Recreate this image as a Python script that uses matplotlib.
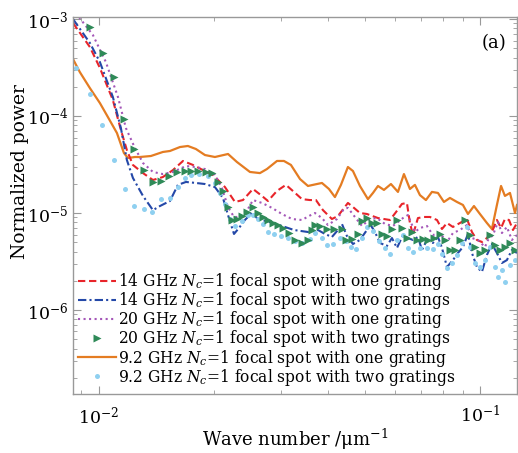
import matplotlib
matplotlib.use("Agg")
import matplotlib.pyplot as plt

# ---------------- data (wave number in 1/um, normalized power) ----------------
k_red = [0.00855, 0.00947, 0.01006, 0.01088, 0.01142, 0.01184, 0.01228, 0.01305, 0.01386, 0.01472,
         0.01564, 0.01662, 0.01765, 0.01875, 0.01992, 0.02142, 0.02275, 0.02388, 0.02537, 0.02678,
         0.02777, 0.02933, 0.03096, 0.0325, 0.03411, 0.0358, 0.03712, 0.03873, 0.04088, 0.04239,
         0.04503, 0.0467, 0.04842, 0.05051, 0.054, 0.05805, 0.06019, 0.06241, 0.06432, 0.0655,
         0.0667, 0.06875, 0.07129, 0.07393, 0.07713, 0.0795, 0.08193, 0.08495, 0.08862, 0.09246,
         0.09528, 0.0982, 0.1012, 0.1043, 0.1075, 0.1108, 0.1136, 0.1163, 0.1192, 0.1221, 0.1251]
p_red = [9.1e-4, 5.14e-4, 3.13e-4, 1.46e-4, 7.17e-5, 4.46e-5, 3.13e-5, 2.58e-5, 2.19e-5, 2.35e-5,
         2.77e-5, 3.44e-5, 3.13e-5, 2.77e-5, 2.47e-5, 1.85e-5, 1.30e-5, 1.36e-5, 1.77e-5, 1.50e-5,
         1.33e-5, 1.69e-5, 1.95e-5, 1.65e-5, 1.39e-5, 1.36e-5, 1.36e-5, 1.07e-5, 8.67e-6, 9.31e-6,
         1.27e-5, 1.13e-5, 1.0e-5, 9.77e-6, 8.87e-6, 8.47e-6, 1.02e-5, 1.24e-5, 1.27e-5, 7.89e-6,
         5.93e-6, 8.87e-6, 9.1e-6, 9.1e-6, 8.47e-6, 6.84e-6, 7.89e-6, 7.18e-6, 7.89e-6, 8.67e-6,
         6.37e-6, 5.27e-6, 5.02e-6, 5.52e-6, 6.37e-6, 8.47e-6, 7.0e-6, 8.67e-6, 8.47e-6, 6.68e-6, 7.89e-6]

k_blue = [0.00855, 0.00947, 0.01006, 0.01088, 0.01142, 0.01184, 0.01228, 0.01305, 0.01386, 0.01446,
          0.01536, 0.01612, 0.01692, 0.01797, 0.01898, 0.02016, 0.02116, 0.02194, 0.02262, 0.02331,
          0.02416, 0.02521, 0.02614, 0.02811, 0.03022, 0.0325, 0.03537, 0.03757, 0.03919, 0.04088,
          0.04239, 0.04343, 0.04476, 0.04642, 0.04842, 0.05051, 0.05144, 0.05302, 0.05465, 0.05701,
          0.05875, 0.06057, 0.0628, 0.06471, 0.0667, 0.06875, 0.07043, 0.07259, 0.07526, 0.07759,
          0.0795, 0.08193, 0.08495, 0.08756, 0.09024, 0.09301, 0.09528, 0.0982, 0.1012, 0.1043,
          0.1075, 0.1108, 0.1142, 0.1177, 0.1213, 0.1251]
p_blue = [1.0e-3, 5.66e-4, 3.60e-4, 1.57e-4, 7.52e-5, 3.52e-5, 2.30e-5, 1.50e-5, 1.07e-5, 1.18e-5,
          1.33e-5, 1.95e-5, 2.09e-5, 2.04e-5, 1.99e-5, 1.85e-5, 1.43e-5, 8.87e-6, 6.08e-6, 7.0e-6,
          8.47e-6, 1.0e-5, 8.67e-6, 8.07e-6, 7.35e-6, 6.68e-6, 6.37e-6, 6.68e-6, 6.08e-6, 5.66e-6,
          6.68e-6, 7.71e-6, 5.79e-6, 4.79e-6, 5.27e-6, 6.68e-6, 7.71e-6, 6.37e-6, 4.91e-6, 4.57e-6,
          5.52e-6, 4.36e-6, 5.93e-6, 5.52e-6, 5.27e-6, 5.66e-6, 4.16e-6, 5.27e-6, 4.91e-6, 5.66e-6,
          4.36e-6, 2.77e-6, 3.27e-6, 3.87e-6, 4.46e-6, 6.08e-6, 3.87e-6, 2.77e-6, 2.47e-6, 3.69e-6,
          4.79e-6, 3.87e-6, 3.05e-6, 3.27e-6, 4.16e-6, 3.87e-6]

k_purple = [0.00855, 0.00891, 0.009644, 0.01043, 0.01122, 0.01177, 0.01243, 0.01305, 0.01386, 0.01472,
            0.01564, 0.01692, 0.01797, 0.01898, 0.02016, 0.02103, 0.02182, 0.02262, 0.02345, 0.02461,
            0.02537, 0.02678, 0.02845, 0.03022, 0.03211, 0.03411, 0.03558, 0.03689, 0.03849, 0.0399,
            0.04215, 0.04395, 0.04503, 0.04698, 0.04901, 0.05144, 0.05367, 0.05632, 0.05912, 0.0628,
            0.06471, 0.06751, 0.06958, 0.07259, 0.07526, 0.07853, 0.08193, 0.08495, 0.08862, 0.09246,
            0.09528, 0.09881, 0.1031, 0.105, 0.1082, 0.1115, 0.1142, 0.1177, 0.1213, 0.1251]
p_purple = [1.3e-3, 1.02e-3, 6.84e-4, 3.60e-4, 1.57e-4, 7.52e-5, 4.68e-5, 3.28e-5, 2.65e-5, 2.52e-5,
            2.65e-5, 3.05e-5, 2.98e-5, 2.84e-5, 2.47e-5, 1.81e-5, 1.15e-5, 9.1e-6, 9.1e-6, 1.10e-5,
            1.36e-5, 1.27e-5, 1.13e-5, 9.77e-6, 8.67e-6, 8.47e-6, 9.31e-6, 1.0e-5, 8.87e-6, 7.52e-6,
            8.67e-6, 1.10e-5, 1.13e-5, 9.1e-6, 7.35e-6, 8.67e-6, 8.87e-6, 7.71e-6, 7.35e-6, 8.87e-6,
            9.53e-6, 6.37e-6, 7.0e-6, 7.35e-6, 5.93e-6, 6.22e-6, 5.02e-6, 6.22e-6, 6.68e-6, 7.52e-6,
            5.52e-6, 5.27e-6, 4.46e-6, 5.27e-6, 5.93e-6, 8.07e-6, 6.22e-6, 7.18e-6, 5.27e-6, 5.93e-6]

k_green = [0.00947, 0.01024, 0.01095, 0.01163, 0.01236, 0.01313, 0.01386, 0.01455, 0.01527, 0.01602,
           0.01682, 0.01744, 0.01819, 0.0191, 0.0198, 0.02053, 0.02116, 0.02182, 0.02234, 0.02302,
           0.02373, 0.02446, 0.02537, 0.02614, 0.02694, 0.02777, 0.02862, 0.0295, 0.0304, 0.03152,
           0.03269, 0.03411, 0.03537, 0.03623, 0.03689, 0.03803, 0.03967, 0.04139, 0.04343, 0.04449,
           0.04613, 0.04784, 0.04901, 0.05051, 0.05207, 0.05367, 0.05532, 0.05701, 0.05875, 0.06057,
           0.06241, 0.06432, 0.06629, 0.06833, 0.07085, 0.07302, 0.0757, 0.07853, 0.08094, 0.08342,
           0.08598, 0.08862, 0.09134, 0.09415, 0.09703, 0.1, 0.1031, 0.1062, 0.1095, 0.1128,
           0.1163, 0.1199, 0.1236]
p_green = [8.27e-4, 4.46e-4, 2.52e-4, 9.31e-5, 4.57e-5, 2.77e-5, 2.09e-5, 2.14e-5, 2.41e-5, 2.65e-5,
           2.71e-5, 2.71e-5, 2.71e-5, 2.65e-5, 2.58e-5, 2.09e-5, 1.69e-5, 1.15e-5, 8.47e-6, 8.67e-6,
           9.31e-6, 1.02e-5, 1.15e-5, 1.0e-5, 9.1e-6, 8.47e-6, 7.89e-6, 7.52e-6, 7.0e-6, 6.22e-6,
           5.27e-6, 4.91e-6, 5.27e-6, 6.68e-6, 7.52e-6, 7.35e-6, 6.84e-6, 6.84e-6, 6.84e-6, 5.27e-6,
           5.40e-6, 6.08e-6, 8.27e-6, 8.87e-6, 7.89e-6, 7.89e-6, 6.08e-6, 5.79e-6, 6.84e-6, 8.47e-6,
           7.0e-6, 5.52e-6, 6.37e-6, 5.27e-6, 5.40e-6, 5.27e-6, 5.52e-6, 6.08e-6, 5.27e-6, 4.16e-6,
           4.16e-6, 5.27e-6, 8.47e-6, 5.93e-6, 4.46e-6, 3.87e-6, 4.16e-6, 5.93e-6, 4.68e-6, 4.16e-6,
           4.46e-6, 4.91e-6, 4.16e-6]

k_orange = [0.00855, 0.00891, 0.00947, 0.01006, 0.01049, 0.01115, 0.01163, 0.01191, 0.01243, 0.01281,
            0.01369, 0.01472, 0.01536, 0.01632, 0.01712, 0.01797, 0.01898, 0.02016, 0.02182, 0.02302,
            0.02491, 0.02646, 0.0276, 0.02933, 0.03059, 0.03191, 0.03371, 0.03537, 0.03734, 0.03849,
            0.04015, 0.04163, 0.04317, 0.04503, 0.04642, 0.04842, 0.05082, 0.05239, 0.054, 0.05598,
            0.0584, 0.06093, 0.06317, 0.0655, 0.06751, 0.06958, 0.07215, 0.07482, 0.07759, 0.08045,
            0.08342, 0.08703, 0.09024, 0.09301, 0.09645, 0.1, 0.1043, 0.1075, 0.1108, 0.1136,
            0.1163, 0.1199, 0.1236, 0.1251]
p_orange = [3.87e-4, 2.84e-4, 1.94e-4, 1.36e-4, 1.02e-4, 6.68e-5, 4.16e-5, 3.69e-5, 3.78e-5, 3.78e-5,
            3.87e-5, 4.26e-5, 4.36e-5, 4.79e-5, 4.91e-5, 4.57e-5, 3.96e-5, 3.78e-5, 4.06e-5, 3.36e-5,
            2.65e-5, 2.58e-5, 2.84e-5, 3.44e-5, 3.44e-5, 3.13e-5, 2.24e-5, 1.90e-5, 1.99e-5, 2.04e-5,
            1.77e-5, 1.46e-5, 1.95e-5, 2.98e-5, 2.71e-5, 1.90e-5, 1.39e-5, 1.61e-5, 1.90e-5, 1.73e-5,
            1.99e-5, 1.65e-5, 2.52e-5, 1.77e-5, 1.95e-5, 1.53e-5, 1.36e-5, 1.65e-5, 1.61e-5, 1.30e-5,
            1.43e-5, 1.30e-5, 1.21e-5, 9.77e-6, 1.18e-5, 9.77e-6, 7.89e-6, 6.84e-6, 1.21e-5, 1.90e-5,
            1.50e-5, 1.61e-5, 1.0e-5, 1.21e-5]

k_cyan = [0.0087, 0.00947, 0.01018, 0.01095, 0.0117, 0.01236, 0.01313, 0.01377, 0.01455, 0.01536,
          0.01612, 0.01682, 0.01744, 0.0183, 0.01932, 0.02016, 0.02078, 0.02142, 0.02207, 0.02275,
          0.02373, 0.02461, 0.02537, 0.02614, 0.02694, 0.02777, 0.02879, 0.03004, 0.03133, 0.03269,
          0.03411, 0.0358, 0.03689, 0.03849, 0.03967, 0.04114, 0.04291, 0.04449, 0.04585, 0.04726,
          0.04901, 0.05051, 0.05239, 0.05432, 0.05632, 0.05805, 0.06057, 0.0628, 0.06471, 0.0667,
          0.06958, 0.07259, 0.07526, 0.07759, 0.0795, 0.08193, 0.08444, 0.08703, 0.0897, 0.09246,
          0.09415, 0.09703, 0.1, 0.1031, 0.1062, 0.1095, 0.1115, 0.1142, 0.1163, 0.1199, 0.1236]
p_cyan = [3.13e-4, 1.69e-4, 8.07e-5, 3.52e-5, 1.77e-5, 1.18e-5, 1.10e-5, 1.02e-5, 1.39e-5, 1.43e-5,
          1.85e-5, 2.30e-5, 2.47e-5, 2.52e-5, 2.41e-5, 2.04e-5, 1.61e-5, 1.24e-5, 8.67e-6, 7.35e-6,
          8.27e-6, 9.53e-6, 9.53e-6, 8.67e-6, 7.71e-6, 6.37e-6, 6.08e-6, 5.79e-6, 5.52e-6, 5.14e-6,
          4.91e-6, 5.40e-6, 6.22e-6, 5.52e-6, 4.68e-6, 4.79e-6, 5.52e-6, 5.14e-6, 4.46e-6, 4.26e-6,
          5.52e-6, 7.18e-6, 6.52e-6, 5.14e-6, 4.36e-6, 3.78e-6, 5.27e-6, 5.93e-6, 4.36e-6, 3.96e-6,
          4.36e-6, 4.36e-6, 4.26e-6, 4.79e-6, 3.78e-6, 2.71e-6, 3.05e-6, 3.69e-6, 4.91e-6, 7.18e-6,
          4.46e-6, 3.05e-6, 2.77e-6, 3.27e-6, 4.46e-6, 2.77e-6, 2.19e-6, 2.58e-6, 1.95e-6, 2.91e-6,
          3.27e-6]

labels = [
    r"14 GHz $N_c$=1 focal spot with one grating",
    r"14 GHz $N_c$=1 focal spot with two gratings",
    r"20 GHz $N_c$=1 focal spot with one grating",
    r"20 GHz $N_c$=1 focal spot with two gratings",
    r"9.2 GHz $N_c$=1 focal spot with one grating",
    r"9.2 GHz $N_c$=1 focal spot with two gratings",
]

# ---------------- figure ----------------
plt.rcParams['font.family'] = ['DejaVu Serif']
plt.rcParams['mathtext.fontset'] = 'dejavuserif'

fig = plt.figure(figsize=(5.18, 4.53), dpi=100)
ax = fig.add_axes([73/518, 1 - 394/453, 444/518, 377/453])

c_red = '#e8242a'
c_blue = '#2448a8'
c_purple = '#a456b8'
c_green = '#2f8a58'
c_orange = '#e47c22'
c_cyan = '#8fd0f0'

h_orange, = ax.plot(k_orange, p_orange, '-', color=c_orange, lw=1.6, label=labels[4])
h_red, = ax.plot(k_red, p_red, '--', color=c_red, lw=1.5, dashes=(3.5, 1.8), label=labels[0])
h_purple, = ax.plot(k_purple, p_purple, ':', color=c_purple, lw=1.5, label=labels[2])
h_blue, = ax.plot(k_blue, p_blue, '-.', color=c_blue, lw=1.5, dashes=(4, 1.5, 1, 1.5), label=labels[1])
h_cyan, = ax.plot(k_cyan, p_cyan, 'o', color=c_cyan, ms=3.6, mec='none', label=labels[5])
h_green, = ax.plot(k_green, p_green, '>', color=c_green, ms=5.5, mec='none', label=labels[3])

ax.set_xscale('log')
ax.set_yscale('log')
ax.set_xlim(0.00855, 0.1251)
ax.set_ylim(1.36e-7, 1.05e-3)

ax.set_xticks([0.01, 0.1])
ax.set_xticklabels([r'$10^{-2}$', r'$10^{-1}$'])
ax.set_yticks([1e-3, 1e-4, 1e-5, 1e-6])
ax.set_yticklabels([r'$10^{-3}$', r'$10^{-4}$', r'$10^{-5}$', r'$10^{-6}$'])

for s in ax.spines.values():
    s.set_color('#999999')
    s.set_linewidth(1.0)
ax.tick_params(which='both', direction='in', top=True, right=True, color='#999999', labelsize=12.5)
ax.tick_params(which='major', length=6)
ax.tick_params(which='minor', length=3)
ax.tick_params(axis='x', pad=8)

ax.set_xlabel('Wave number /μm$^{-1}$', fontsize=13, labelpad=0)
ax.set_ylabel('Normalized power', fontsize=13.5)
ax.yaxis.set_label_coords(-0.098, 0.59)

ax.text(0.975, 0.955, '(a)', transform=ax.transAxes, ha='right', va='top', fontsize=13)

handles = [h_red, h_blue, h_purple, h_green, h_orange, h_cyan]
leg = ax.legend(handles=handles, labels=labels, loc='upper left',
                bbox_to_anchor=(0.012, 0.326), frameon=False, fontsize=11.2,
                handlelength=2.4, handletextpad=0.15, labelspacing=-0.12,
                borderpad=0, borderaxespad=0, numpoints=1)

fig.savefig('out.png', dpi=100)
